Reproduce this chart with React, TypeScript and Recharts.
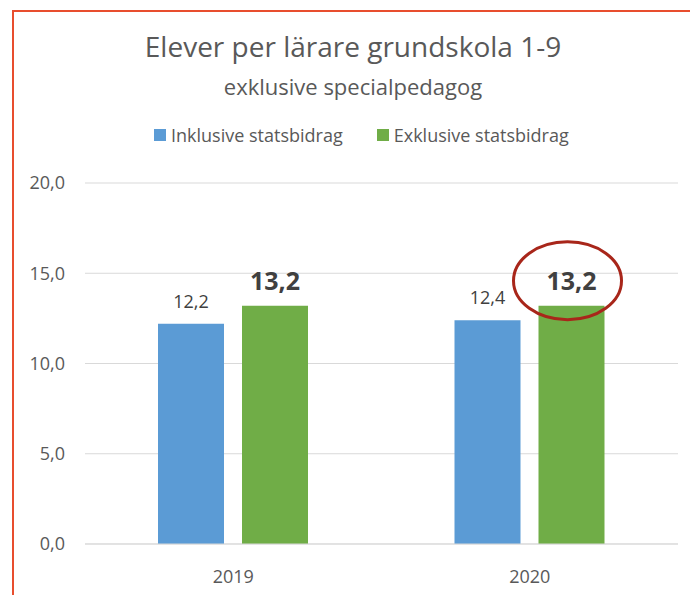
import { BarChart, Bar, XAxis, YAxis, CartesianGrid, Legend, LabelList } from 'recharts';

const years = ['2019', '2020'];
const inklusive = [12.2, 12.4];
const exklusive = [13.2, 13.2];
const yTicks = [0, 5, 10, 15, 20];

const data = years.map((year, i) => ({ year, inklusive: inklusive[i], exklusive: exklusive[i] }));

const font = '"Open Sans", "Liberation Sans", sans-serif';
const fmt = (v: number) => v.toFixed(1).replace('.', ',');

// bold label plus the red circle around the 2020 value
function ExklusiveLabel(props: any) {
  const { x, y, width, value, index } = props;
  const cx = x + width / 2;
  return (
    <g>
      <text x={cx} y={y - 16} textAnchor="middle" fontSize={25} fontWeight="bold" fill="#404040" fontFamily={font}>
        {fmt(value)}
      </text>
      {index === 1 && (
        <ellipse cx={cx - 4} cy={y - 25} rx={54} ry={39} fill="none" stroke="#a8261a" strokeWidth={3} />
      )}
    </g>
  );
}

function LegendContent(props: any) {
  const { payload = [] } = props;
  return (
    <div style={{ display: 'flex', alignItems: 'center', gap: 34, fontSize: 18, fontFamily: font, color: '#595959' }}>
      {payload.map((p: any) => (
        <div key={p.value} style={{ display: 'flex', alignItems: 'center', gap: 5 }}>
          <span style={{ display: 'inline-block', width: 12, height: 12, background: p.color }} />
          <span>{p.value}</span>
        </div>
      ))}
    </div>
  );
}

export default function App() {
  return (
    <div style={{ position: 'absolute', left: 0, top: 0, width: 690, height: 595, background: '#fff', fontFamily: font, overflow: 'hidden' }}>
      <div style={{ position: 'absolute', left: 12, top: 10, right: 0, bottom: 0, borderLeft: '2px solid #e84e2e', borderTop: '2px solid #e84e2e' }} />
      <div style={{ position: 'absolute', top: 27, left: 12, width: 690 - 12 + 4, textAlign: 'center', fontSize: 28, color: '#595959' }}>
        Elever per lärare grundskola 1-9
      </div>
      <div style={{ position: 'absolute', top: 71, left: 12, width: 690 - 12 + 4, textAlign: 'center', fontSize: 22, color: '#595959' }}>
        exklusive specialpedagog
      </div>
      <BarChart width={690} height={595} data={data} margin={{ top: 159, right: 12, bottom: 21, left: 0 }} barSize={66} barGap={18}>
        <CartesianGrid vertical={false} stroke="#d9d9d9" />
        <XAxis dataKey="year" axisLine={{ stroke: '#d9d9d9' }} tickLine={false} tickMargin={20}
          tick={{ fill: '#595959', fontSize: 18, fontFamily: font }} />
        <YAxis width={85} domain={[0, 20]} ticks={yTicks} tickFormatter={fmt} axisLine={false} tickLine={false}
          tickSize={0} tickMargin={20} tick={{ fill: '#595959', fontSize: 18, fontFamily: font }} />
        <Legend verticalAlign="top" itemSorter={() => 0} content={<LegendContent />}
          wrapperStyle={{ top: 123, left: 154, width: 'auto' }} />
        <Bar dataKey="inklusive" name="Inklusive statsbidrag" fill="#5b9bd5" isAnimationActive={false}>
          <LabelList dataKey="inklusive" position="top" offset={16} formatter={(v: any) => fmt(Number(v))}
            style={{ fill: '#404040', fontSize: 18, fontFamily: font }} />
        </Bar>
        <Bar dataKey="exklusive" name="Exklusive statsbidrag" fill="#70ad47" isAnimationActive={false}>
          <LabelList dataKey="exklusive" content={<ExklusiveLabel />} />
        </Bar>
      </BarChart>
    </div>
  );
}
